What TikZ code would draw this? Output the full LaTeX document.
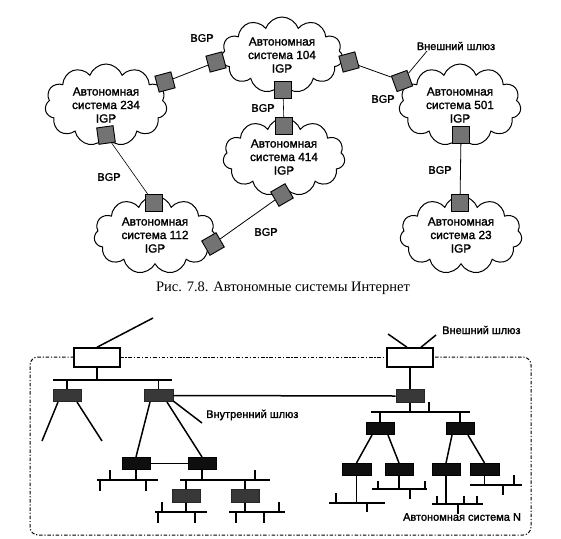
\documentclass[tikz,border=0pt]{standalone}
\usepackage{fontspec}
\setmainfont{Liberation Serif}
\newfontfamily\sansf[FakeBold=1.6]{Liberation Sans}
\usetikzlibrary{shapes.symbols}
\begin{document}
\begin{tikzpicture}[x=1pt,y=-1pt,
  asys/.style={cloud, cloud puffs=11, cloud puff arc=140, cloud ignores aspect, draw, line width=1pt,
     minimum width=122pt, minimum height=82pt, align=center, inner sep=0pt,
     font=\sansf\fontsize{11.8}{13.5}\selectfont},
  rtr/.style={draw, line width=0.9pt, fill=black!55, minimum size=16.5pt, inner sep=0pt},
  conn/.style={line width=0.8pt},
  lbl/.style={font=\sansf\fontsize{11}{12}\selectfont, inner sep=1pt},
  wbox/.style={draw, line width=1.5pt, fill=white, minimum width=46pt, minimum height=19pt, inner sep=0pt},
  gbox/.style={draw=black!85, line width=0.6pt, fill=black!78, minimum width=28pt, minimum height=12.5pt, inner sep=0pt},
  bbox/.style={draw=black, line width=0.6pt, fill=black!94, minimum width=28pt, minimum height=12.5pt, inner sep=0pt},
  ln/.style={line width=1.5pt},
  bus/.style={line width=2pt},
  border/.style={dash pattern=on 3.5pt off 1.8pt on 1.2pt off 1.8pt, line width=1pt}
]
\useasboundingbox[fill=white] (0,0) rectangle (561,538);

% ---------- top: autonomous systems ----------
\node[asys] (c234) at (106,105) {Автономная\\система 234\\IGP};
\node[asys, minimum height=76pt] (c104) at (282,55) {Автономная\\система 104\\IGP};
\node[asys] (c501) at (460,105) {Автономная\\система 501\\IGP};
\node[asys, minimum height=78pt] (c414) at (284,157) {Автономная\\система 414\\IGP};
\node[asys, minimum height=78pt] (c112) at (155,235) {Автономная\\система 112\\IGP};
\node[asys, minimum height=78pt] (c23) at (461,235) {Автономная\\система 23\\IGP};

\node[rtr, rotate=15] (r1) at (165,82) {};
\node[rtr, rotate=15] (r2) at (216,62) {};
\node[rtr] (r3) at (283,90) {};
\node[rtr] (r4) at (284,126) {};
\node[rtr, rotate=8] (r5) at (106,135) {};
\node[rtr] (r6) at (154,203) {};
\node[rtr, rotate=30] (r7) at (213,244) {};
\node[rtr, rotate=30] (r8) at (282,195) {};
\node[rtr, rotate=15] (r9) at (349,62) {};
\node[rtr, rotate=20] (r10) at (402,81) {};
\node[rtr] (r11) at (461,135) {};
\node[rtr] (r12) at (460,203) {};

\draw[conn] (r1) -- (r2);
\draw[conn, line width=0.6pt] (r3) -- (r4);
\draw[conn, line width=0.6pt] (r5) -- (r6);
\draw[conn] (r7) -- (r8);
\draw[conn] (r9) -- (r10);
\draw[conn] (r11) -- (r12);

\node[lbl] (b1) at (202,38) {BGP};
\node[lbl] (b2) at (263,108) {BGP};
\node[lbl] (b3) at (109,177) {BGP};
\node[lbl] (b4) at (266,232) {BGP};
\node[lbl] (b5) at (383,99) {BGP};
\node[lbl] (b6) at (440,170) {BGP};
\node[lbl] (ext1) at (456,46) {Внешний шлюз};
\coordinate (ext1p) at (427,51);
\draw[line width=0.7pt] (ext1p) -- (r10);

\node[font=\fontsize{14.5}{16}\selectfont] (cap) at (283,288) {Рис. 7.8. Автономные системы Интернет};

% ---------- bottom: inside an autonomous system ----------
\draw[border] (74,357) -- (38,357) arc[start angle=90,end angle=180,radius=8pt] -- (30,527)
   arc[start angle=180,end angle=270,radius=8pt] -- (523,535)
   arc[start angle=270,end angle=360,radius=8pt] -- (531,365)
   arc[start angle=0,end angle=90,radius=8pt] -- (433,357);
\draw[border] (120,357) -- (387,357);

\node[wbox] (wl) at (97,357.5) {};
\node[wbox] (wr) at (410,357.5) {};
\coordinate (tl) at (153,318);
\draw[ln] (wl.north) -- (tl);
\coordinate (wr1) at (388,334);
\coordinate (wr2) at (436,335);
\draw[ln] ([xshift=-3pt]wr.north) -- (wr1);
\draw[ln] ([xshift=11pt]wr.north) -- (wr2);
\node[lbl, anchor=west] (ext2) at (441,330) {Внешний шлюз};

% left tree
\draw[bus] (53,380) -- (172,380);
\draw[ln] (wl.south) -- (97,380);
\node[gbox] (g1) at (67,395.5) {};
\node[gbox, minimum width=29pt] (g2) at (158.5,395.5) {};
\draw[ln] (67,380) -- (g1.north);
\draw[ln] (158.5,380) -- (g2.north);
\coordinate (g1a) at (42,441);
\coordinate (g1b) at (102,441);
\draw[ln] ([xshift=-9pt]g1.south) -- (g1a);
\draw[ln] ([xshift=10pt]g1.south) -- (g1b);

\node[gbox] (gr) at (410,396) {};
\draw[ln] (g2.east) -- (gr.west);
\draw[ln] (wr.south) -- (gr.north);

\node[bbox] (bl1) at (136,463.5) {};
\node[bbox] (bl2) at (202,463.5) {};
\draw[ln] ([xshift=-8.5pt]g2.south) -- (bl1.north);
\draw[ln] ([xshift=8.5pt]g2.south) -- (bl2.north);
\draw[ln] (bl1.east) -- (bl2.west);
\coordinate (inp) at (202,423);
\draw[ln] ([yshift=1pt]g2.south east) -- (inp);
\node[lbl, anchor=west] (int) at (205,415) {Внутренний шлюз};

\draw[ln] (bl1.south) -- (136,480);
\draw[bus] (97,480) -- (158,480);
\draw[ln] (110,480) -- (110,470) (100,480) -- (100,491) (146,480) -- (146,491);

\draw[ln] (bl2.south) -- (202,480);
\draw[bus] (180,480) -- (270,480);
\draw[ln] (255,480) -- (255,470);
\node[gbox] (g3) at (186,496) {};
\node[gbox] (g4) at (245,496) {};
\draw[ln] (186,480) -- (g3.north);
\draw[ln] (245,480) -- (g4.north);

\draw[ln] (g3.south) -- (186,512);
\draw[bus] (155,512) -- (207,512);
\draw[ln] (162,512) -- (162,502) (158,512) -- (158,523) (195,512) -- (195,523);
\draw[ln] (g4.south) -- (245,512);
\draw[bus] (229,512) -- (285,512);
\draw[ln] (279,512) -- (279,502) (236,512) -- (236,523) (264,512) -- (264,523);

% right tree
\draw[ln] (gr.south) -- (410,412);
\draw[bus] (371,412) -- (470,412);
\draw[ln] (429,412) -- (429,402);
\node[bbox] (b3) at (380,428.5) {};
\node[bbox] (b4) at (460,428.5) {};
\draw[ln] (380,412) -- (b3.north);
\draw[ln] (460,412) -- (b4.north);

\node[bbox, minimum width=29pt] (b5) at (356.5,469.5) {};
\node[bbox] (b6) at (399,469.5) {};
\node[bbox] (b7) at (446,469.5) {};
\node[bbox, minimum width=29pt] (b8) at (484.5,469.5) {};
\draw[ln] ([xshift=-8pt]b3.south) -- (b5.north);
\draw[ln] ([xshift=8pt]b3.south) -- (b6.north);
\draw[ln] ([xshift=-8pt]b4.south) -- (b7.north);
\draw[ln] ([xshift=8pt]b4.south) -- (b8.north);

\draw[ln] (b5.south) -- (356.5,503);
\draw[bus] (329,503) -- (385,503);
\draw[ln] (336,503) -- (336,493) (367,503) -- (367,512);

\draw[ln] (b6.south) -- (399,489);
\draw[bus] (372,489) -- (427,489);
\draw[ln] (378,489) -- (378,481) (425,489) -- (425,481) (410,489) -- (410,499);

\draw[ln] (b7.south) -- (446,504);
\draw[bus] (432,504) -- (483,504);
\draw[ln] (437,504) -- (437,496) (464,504) -- (464,496) (477,504) -- (477,496) (458,504) -- (458,514);

\draw[ln] (b8.south) -- (484.5,485);
\draw[bus] (470,485) -- (522,485);
\draw[ln] (514,485) -- (514,475) (503,485) -- (503,495);

\node[lbl] (asn) at (462,517) {Автономная система N};
\end{tikzpicture}
\end{document}
